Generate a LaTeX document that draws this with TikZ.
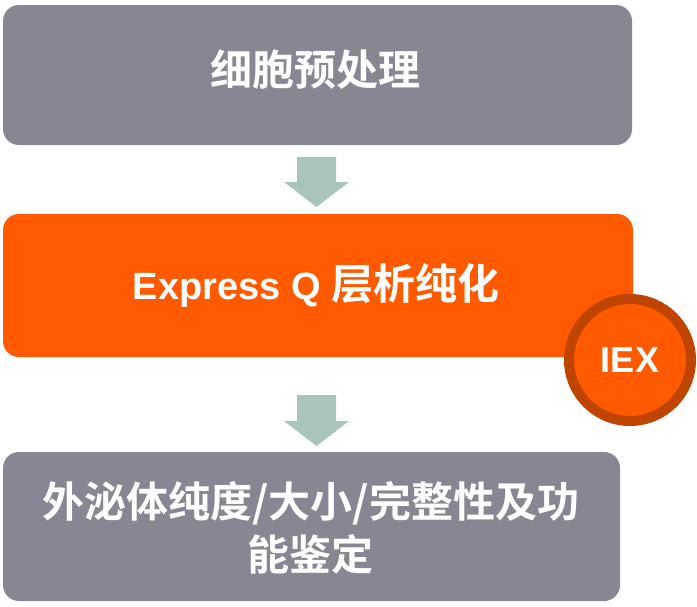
\documentclass[tikz,border=0pt]{standalone}
\usepackage{fontspec}
\newfontfamily\cjk{Noto Sans CJK SC Bold}
\newfontfamily\lat{Liberation Sans Bold}
\setmainfont{Noto Sans CJK SC Bold}
\definecolor{boxgray}{HTML}{878693}
\definecolor{boxorange}{HTML}{FF5A00}
\definecolor{ringorange}{HTML}{BF4400}
\definecolor{arrowgreen}{HTML}{A9C5BB}
\begin{document}
\begin{tikzpicture}[x=1pt,y=-1pt,
  stagebox/.style={fill=#1, rounded corners=16pt, draw=none},
  lbl/.style={text=white, font=\cjk, align=center, inner sep=0pt},
  downarrow/.style={fill=arrowgreen, draw=none}]
\useasboundingbox (0,0) rectangle (697,606);
% boxes
\fill[stagebox=boxgray] (3,5) rectangle (632,145);
\node[lbl, font=\cjk\fontsize{42}{50}\selectfont] (t1) at (315,70) {细胞预处理};
\fill[stagebox=boxorange] (3,214) rectangle (633,357);
\node[lbl, font=\cjk\fontsize{42}{50}\selectfont] (t2) at (316,285) {{\lat\fontsize{38}{44}\selectfont Express Q }层析纯化};
\fill[stagebox=boxgray] (3,452) rectangle (620,601);
\node[lbl, font=\cjk\fontsize{42}{53}\selectfont] (t3) at (311,528) {外泌体纯度/大小/完整性及功\\能鉴定};
% arrows
\fill[downarrow] (297,157) -- (336,157) -- (336,182) -- (349,182) -- (316.5,207) -- (284,182) -- (297,182) -- cycle;
\fill[downarrow] (297,395) -- (336,395) -- (336,421) -- (349,421) -- (316.5,446) -- (284,421) -- (297,421) -- cycle;
% IEX badge
\node[circle, fill=boxorange, draw=ringorange, line width=10pt, minimum size=122pt, inner sep=0pt,
  text=white, font=\lat\fontsize{36}{40}\selectfont] (iex) at (630,360) {IEX};
\end{tikzpicture}
\end{document}
